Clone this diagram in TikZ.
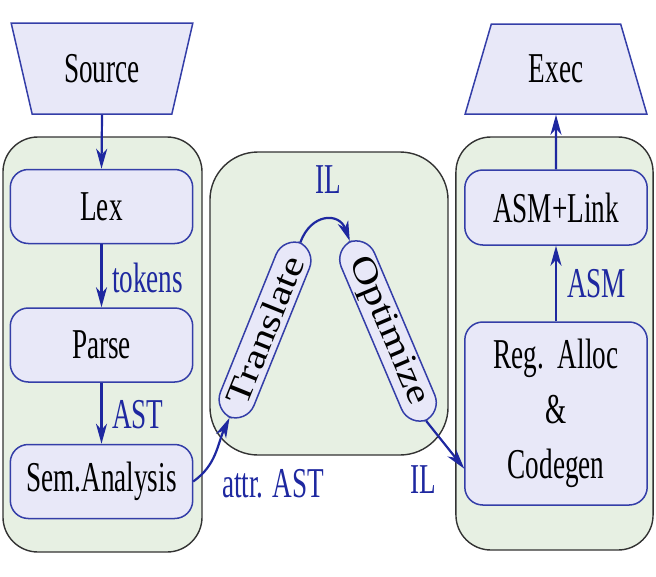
\documentclass[tikz,border=0pt]{standalone}
\usepackage{fontspec}
\setmainfont{Liberation Serif}
\usetikzlibrary{shapes.geometric,arrows.meta}

\definecolor{boxfill}{RGB}{232,232,248}
\definecolor{boxline}{RGB}{52,62,168}
\definecolor{stagefill}{RGB}{231,240,227}
\definecolor{flowblue}{RGB}{30,40,160}

\newcommand{\passfont}{\fontsize{42.5}{55}\selectfont}

\tikzset{
    squeeze/.style={xscale=0.64},
    stage/.style={draw=black!80, line width=1.4pt, fill=stagefill, rounded corners=35pt, squeeze},
    pass/.style={draw=boxline, line width=1.5pt, fill=boxfill, rounded corners=18pt,
        minimum width=285pt, minimum height=74pt, inner sep=0pt, font=\passfont, squeeze},
    tilted/.style={draw=boxline, line width=1.5pt, fill=boxfill, rounded corners=20pt,
        minimum height=44pt, inner sep=0pt, font=\passfont},
    io/.style={trapezium, trapezium stretches=true, trapezium left angle=62, trapezium right angle=62,
        draw=boxline, line width=1.5pt, fill=boxfill, minimum width=284pt, minimum height=91pt,
        font=\passfont, squeeze},
    flow/.style={draw=flowblue, line width=2.2pt, -{Stealth[length=20pt,width=11pt,inset=6pt]}},
    tag/.style={text=flowblue, font=\passfont, anchor=base west, inner sep=0pt, squeeze},
}

\begin{document}
\begin{tikzpicture}[x=1pt, y=1pt]
    \useasboundingbox (0,0) rectangle (656,-576);
    % stages
    \node[stage, minimum width=311pt, minimum height=415pt] (front) at (102.5,-344.5) {};
    \node[stage, minimum width=372pt, minimum height=303pt, rounded corners=48pt] (middle) at (329,-303.5) {};
    \node[stage, minimum width=308pt, minimum height=413pt] (back) at (554.5,-343.5) {};
    % passes
    \node[io, shape border rotate=180] (source) at (102,-68.5) {Source};
    \node[pass] (lex) at (101.5,-206.5) {Lex};
    \node[pass] (parse) at (101.5,-345) {Parse};
    \node[pass] (sem) at (101.5,-481.5) {Sem.Analysis};
    \node[tilted, minimum width=188pt, rotate=68, yscale=0.82] (translate) at (265,-330) {Translate};
    \node[tilted, minimum width=194pt, rotate=-67, yscale=0.82] (optimize) at (388,-331) {Optimize};
    \node[pass, minimum height=183pt, align=center] (reg) at (556,-413.5) {Reg.\ \ Alloc\\\&\\Codegen};
    \node[pass, minimum height=75pt] (asm) at (556,-207.5) {ASM+Link};
    \node[io, minimum height=90pt] (exec) at (556,-69) {Exec};
    % flow
    \draw[flow] (source.south) -- (lex.north);
    \draw[flow] (lex.south) -- (parse.north);
    \draw[flow] (parse.south) -- (sem.north);
    \draw[flow] (sem.east) to[out=35, in=245] (translate.west);
    \draw[flow] (translate.east) to[out=70, in=110, looseness=1.6] (optimize.west);
    \draw[flow] (optimize.east) -- ([yshift=37pt]reg.south west);
    \draw[flow] (reg.north) -- (asm.south);
    \draw[flow] (asm.north) -- (exec.south);
    % labels
    \node[tag] (tokens) at (112,-292) {tokens};
    \node[tag] (ast) at (112,-428) {AST};
    \node[tag] (ilup) at (315,-193) {IL};
    \node[tag] (attrast) at (222,-497) {attr. AST};
    \node[tag] (ildown) at (410,-493) {IL};
    \node[tag] (asmtag) at (567,-297) {ASM};
\end{tikzpicture}
\end{document}
